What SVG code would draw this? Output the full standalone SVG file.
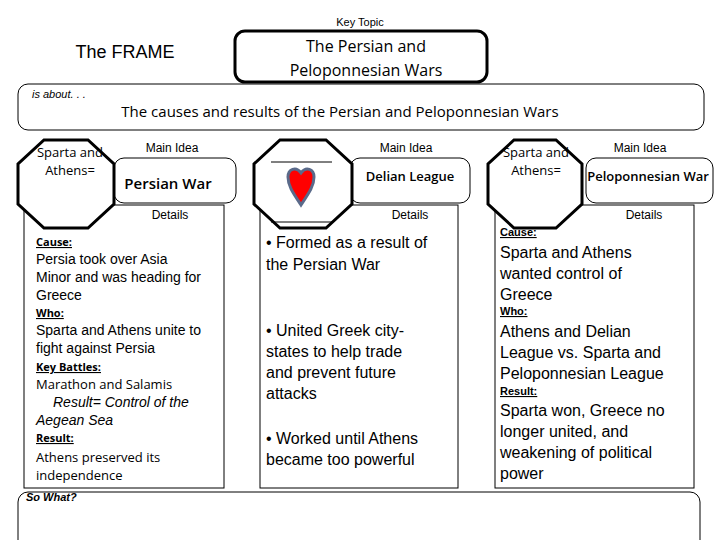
<svg xmlns="http://www.w3.org/2000/svg" width="720" height="540" viewBox="0 0 720 540">
<style>
.a{font-family:"Liberation Sans",Arial,sans-serif;fill:#000}
.n{font-family:"Open Sans","DejaVu Sans",sans-serif;fill:#000}
.box{fill:#fff;stroke:#000;stroke-width:1}
.oct{fill:#fff;stroke:#000;stroke-width:3}
.col{fill:#fff;stroke:#000;stroke-width:1}
.h{font-size:11px;font-weight:bold;text-decoration:underline}
.b{font-size:16px}
.l{font-size:14px;font-weight:300}
.m{font-weight:600}
</style>
<rect width="720" height="540" fill="#fff"/>
<g id="header">
<text class="a" x="360" y="26" font-size="11" text-anchor="middle">Key Topic</text>
<text class="a" x="125" y="58" font-size="18" text-anchor="middle">The FRAME</text>
</g>
<g id="topic">
<rect x="235" y="31" width="252" height="51" rx="10" fill="#fff" stroke="#000" stroke-width="3"/>
<text class="n" x="366" y="52" font-size="16" text-anchor="middle">The Persian and</text>
<text class="n" x="366" y="76" font-size="16" text-anchor="middle">Peloponnesian Wars</text>
</g>
<g id="about">
<rect class="box" x="18" y="84" width="686" height="46" rx="10"/>
<text class="a" x="32" y="98" font-size="11" font-style="italic">is about. . .</text>
<text class="n" x="340" y="117" font-size="15" text-anchor="middle">The causes and results of the Persian and Peloponnesian Wars</text>
</g>
<g id="columns">
<rect class="col" x="24" y="205" width="200" height="283"/>
<rect class="col" x="260" y="205" width="198" height="283"/>
<rect class="col" x="495" y="205" width="199" height="283"/>
</g>
<g id="left">
<rect class="box" x="114" y="158" width="122" height="45" rx="10"/>
<polygon class="oct" points="44,140 88,140 114,164 114,204 88,228 44,228 18,204 18,164"/>
<text class="n" x="70" y="157" font-size="13" text-anchor="middle">Sparta and</text>
<text class="n" x="70" y="175" font-size="13" text-anchor="middle">Athens=</text>
<text class="a" x="172" y="152" font-size="12" text-anchor="middle">Main Idea</text>
<text class="n m" x="168" y="189" font-size="15" text-anchor="middle">Persian War</text>
<text class="a" x="170" y="219" font-size="12" text-anchor="middle">Details</text>
<text class="n h" x="36" y="246">Cause:</text>
<text class="a l" x="36" y="264">Persia took over Asia</text>
<text class="a l" x="36" y="282">Minor and was heading for</text>
<text class="a l" x="36" y="300">Greece</text>
<text class="n h" x="36" y="317">Who:</text>
<text class="a l" x="36" y="335">Sparta and Athens unite to</text>
<text class="a l" x="36" y="353">fight against Persia</text>
<text class="n h" x="36" y="371">Key Battles:</text>
<text class="n" x="36" y="389" font-size="13">Marathon and Salamis</text>
<text class="a l" x="53" y="407" font-style="italic">Result= Control of the</text>
<text class="a l" x="36" y="425" font-style="italic">Aegean Sea</text>
<text class="n h" x="36" y="442">Result:</text>
<text class="n" x="36" y="462" font-size="13">Athens preserved its</text>
<text class="n" x="36" y="480" font-size="13">independence</text>
</g>
<g id="middle">
<rect class="box" x="350" y="158" width="120" height="45" rx="10"/>
<polygon class="oct" points="280,140 326,140 352,164 352,204 326,228 280,228 254,204 254,164"/>
<line x1="271" y1="162" x2="332" y2="162" stroke="#000" stroke-width="1"/>
<line x1="271" y1="222" x2="332" y2="222" stroke="#000" stroke-width="1"/>
<path d="M301,205 C293,193 288,186 288,177 C288,169 296,166 301,173 C306,166 314,169 314,177 C314,186 309,193 301,205 Z" fill="#f00" stroke="#5a6a8a" stroke-width="3"/>
<text class="a" x="406" y="152" font-size="12" text-anchor="middle">Main Idea</text>
<text class="n m" x="410" y="181" font-size="13" text-anchor="middle">Delian League</text>
<text class="a" x="410" y="219" font-size="12" text-anchor="middle">Details</text>
<text class="a b" x="266" y="248">• Formed as a result of</text>
<text class="a b" x="266" y="270">the Persian War</text>
<text class="a b" x="266" y="336">• United Greek city-</text>
<text class="a b" x="266" y="357">states to help trade</text>
<text class="a b" x="266" y="378">and prevent future</text>
<text class="a b" x="266" y="399">attacks</text>
<text class="a b" x="266" y="444">• Worked until Athens</text>
<text class="a b" x="266" y="465">became too powerful</text>
</g>
<g id="right">
<rect class="box" x="586" y="158" width="127" height="45" rx="10"/>
<polygon class="oct" points="514,140 556,140 582,164 582,204 556,228 514,228 488,204 488,164"/>
<text class="n" x="536" y="157" font-size="13" text-anchor="middle">Sparta and</text>
<text class="n" x="536" y="175" font-size="13" text-anchor="middle">Athens=</text>
<text class="a" x="640" y="152" font-size="12" text-anchor="middle">Main Idea</text>
<text class="n m" x="648" y="181" font-size="13" text-anchor="middle">Peloponnesian War</text>
<text class="a" x="644" y="219" font-size="12" text-anchor="middle">Details</text>
<text class="a h" x="500" y="236" font-size="9">Cause:</text>
<text class="a b" x="500" y="258">Sparta and Athens</text>
<text class="a b" x="500" y="279">wanted control of</text>
<text class="a b" x="500" y="300">Greece</text>
<text class="a h" x="500" y="315" font-size="9">Who:</text>
<text class="a b" x="500" y="337">Athens and Delian</text>
<text class="a b" x="500" y="358">League vs. Sparta and</text>
<text class="a b" x="500" y="379">Peloponnesian League</text>
<text class="a h" x="500" y="395" font-size="9">Result:</text>
<text class="a b" x="500" y="416">Sparta won, Greece no</text>
<text class="a b" x="500" y="437">longer united, and</text>
<text class="a b" x="500" y="458">weakening of political</text>
<text class="a b" x="500" y="479">power</text>
</g>
<g id="sowhat">
<rect class="box" x="18" y="492" width="682" height="60" rx="10"/>
<text class="a" x="26" y="501" font-size="11" font-weight="bold" font-style="italic">So What?</text>
</g>
</svg>
